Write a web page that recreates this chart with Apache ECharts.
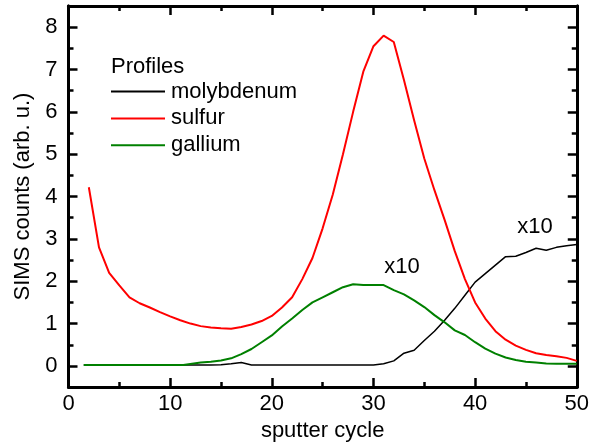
<!DOCTYPE html>
<html>
<head>
<meta charset="utf-8">
<script src="https://cdn.jsdelivr.net/npm/echarts@6/dist/echarts.min.js"></script>
<style>html,body{margin:0;padding:0;background:#fff;}#chart{width:592px;height:447px;}</style>
</head>
<body>
<div id="chart"></div>
<script>
var seriesNames = ['molybdenum', 'sulfur', 'gallium'];
var yMajorTicks = [0, 1, 2, 3, 4, 5, 6, 7, 8];
var yMinorTicks = [0.5, 1.5, 2.5, 3.5, 4.5, 5.5, 6.5, 7.5];

var molyX = [1.5, 14, 15, 16, 17, 18, 30, 31, 32, 33, 34, 35, 36, 37, 38, 39, 40, 41, 42, 43, 44, 45, 46, 47, 48, 49, 50];
var molyY = [0.02, 0.02, 0.03, 0.05, 0.08, 0.02, 0.02, 0.05, 0.12, 0.3, 0.37, 0.6, 0.82, 1.08, 1.36, 1.67, 1.98, 2.18, 2.38, 2.58, 2.59, 2.68, 2.78, 2.73, 2.8, 2.84, 2.87];

var sulfurX = [2, 3, 4, 5, 6, 7, 8, 9, 10, 11, 12, 13, 14, 15, 16, 17, 18, 19, 20, 21, 22, 23, 24, 25, 26, 27, 28, 29, 30, 31, 32, 33, 34, 35, 36, 37, 38, 39, 40, 41, 42, 43, 44, 45, 46, 47, 48, 49, 50];
var sulfurY = [4.22, 2.8, 2.2, 1.9, 1.62, 1.48, 1.38, 1.27, 1.17, 1.08, 1.0, 0.94, 0.91, 0.89, 0.88, 0.92, 0.98, 1.06, 1.18, 1.38, 1.62, 2.05, 2.55, 3.25, 4.05, 5.0, 6.0, 6.95, 7.55, 7.8, 7.65, 6.75, 5.8, 4.9, 4.15, 3.45, 2.71, 2.05, 1.5, 1.12, 0.82, 0.62, 0.48, 0.38, 0.3, 0.26, 0.23, 0.19, 0.12];

var galliumX = [1.5, 11.3, 11.4, 13, 14, 15, 16, 17, 18, 19, 20, 21, 22, 23, 24, 25, 26, 27, 28, 29, 30, 31, 32, 33, 34, 35, 36, 37, 38, 39, 40, 41, 42, 43, 44, 45, 46, 47, 48, 49, 50];
var galliumY = [0.02, 0.02, 0.06, 0.08, 0.1, 0.13, 0.18, 0.28, 0.4, 0.56, 0.72, 0.93, 1.12, 1.32, 1.5, 1.62, 1.74, 1.86, 1.93, 1.91, 1.91, 1.91, 1.79, 1.69, 1.55, 1.39, 1.2, 1.03, 0.84, 0.73, 0.56, 0.41, 0.29, 0.2, 0.14, 0.1, 0.08, 0.06, 0.05, 0.05, 0.05];

var annotations = [
  { text: 'x10', x: 32.8, y: 2.34 },
  { text: 'x10', x: 45.9, y: 3.29 }
];

function pairs(xs, ys) { return xs.map(function (x, i) { return [x, ys[i]]; }); }

var FONT = 'Liberation Sans, Arial, sans-serif';
var FS = 22;
var chart = echarts.init(document.getElementById('chart'), null, { renderer: 'canvas' });

function yAx(pos, ticks, len, labels) {
  return {
    type: 'value', position: pos, min: -0.5, max: 8.5,
    splitLine: { show: false },
    axisLine: { show: true, onZero: false, lineStyle: { color: '#000', width: 3 } },
    axisTick: { show: true, inside: true, length: len, customValues: ticks, lineStyle: { color: '#000', width: 2.5 } },
    axisLabel: labels ? { show: true, customValues: yMajorTicks, margin: 11, color: '#000', fontSize: FS, fontFamily: FONT } : { show: false },
    name: labels ? 'SIMS counts (arb. u.)' : '',
    nameLocation: 'middle', nameGap: 34.5,
    nameTextStyle: { color: '#000', fontSize: FS, fontFamily: FONT }
  };
}
function xAx(pos, labels) {
  return {
    type: 'value', position: pos, min: 0, max: 50, interval: 10,
    splitLine: { show: false },
    axisLine: { show: true, onZero: false, lineStyle: { color: '#000', width: 3 } },
    axisTick: { show: true, inside: true, length: 9, lineStyle: { color: '#000', width: 2.5 } },
    minorTick: { show: true, splitNumber: 2, length: 5, lineStyle: { color: '#000', width: 2.5 } },
    minorSplitLine: { show: false },
    axisLabel: labels ? { show: true, margin: 6, color: '#000', fontSize: FS, fontFamily: FONT } : { show: false },
    name: labels ? 'sputter cycle' : '',
    nameLocation: 'middle', nameGap: 30,
    nameTextStyle: { color: '#000', fontSize: FS, fontFamily: FONT }
  };
}

var colors = ['#000000', '#ff0000', '#008000'];
var widths = [1.5, 2, 2];
var datas = [pairs(molyX, molyY), pairs(sulfurX, sulfurY), pairs(galliumX, galliumY)];

var series = seriesNames.map(function (n, i) {
  return {
    name: n, type: 'line', data: datas[i], symbol: 'none', showSymbol: false,
    xAxisIndex: 0, yAxisIndex: 0, animation: false,
    lineStyle: { color: colors[i], width: widths[i] }, itemStyle: { color: colors[i] }
  };
});
series.push({
  name: 'annotations', type: 'scatter', xAxisIndex: 0, yAxisIndex: 0, symbolSize: 0, silent: true, animation: false,
  itemStyle: { opacity: 1, color: '#000' },
  data: annotations.map(function (a) { return { value: [a.x, a.y], label: { formatter: a.text } }; }),
  label: { show: true, position: 'inside', color: '#000', textBorderWidth: 0, fontSize: FS, fontFamily: FONT }
});

chart.setOption({
  backgroundColor: '#fff',
  animation: false,
  grid: { left: 68.5, right: 12.5, top: 6, bottom: 56, containLabel: false },
  title: { text: 'Profiles', left: 111, top: 56, padding: 0, textStyle: { color: '#000', fontSize: FS, fontWeight: 'normal', fontFamily: FONT } },
  legend: {
    data: seriesNames, orient: 'vertical', left: 111, top: 80.5, padding: 0,
    icon: 'rect', itemWidth: 54, itemHeight: 2, itemGap: 4.9,
    textStyle: { color: '#000', fontSize: FS, fontFamily: FONT, padding: [0, 0, 0, 1] }
  },
  xAxis: [xAx('bottom', true), xAx('top', false)],
  yAxis: [yAx('left', yMajorTicks, 9, true), yAx('left', yMinorTicks, 5, false), yAx('right', yMajorTicks, 9, false), yAx('right', yMinorTicks, 5, false)],
  series: series
});
</script>
</body>
</html>
